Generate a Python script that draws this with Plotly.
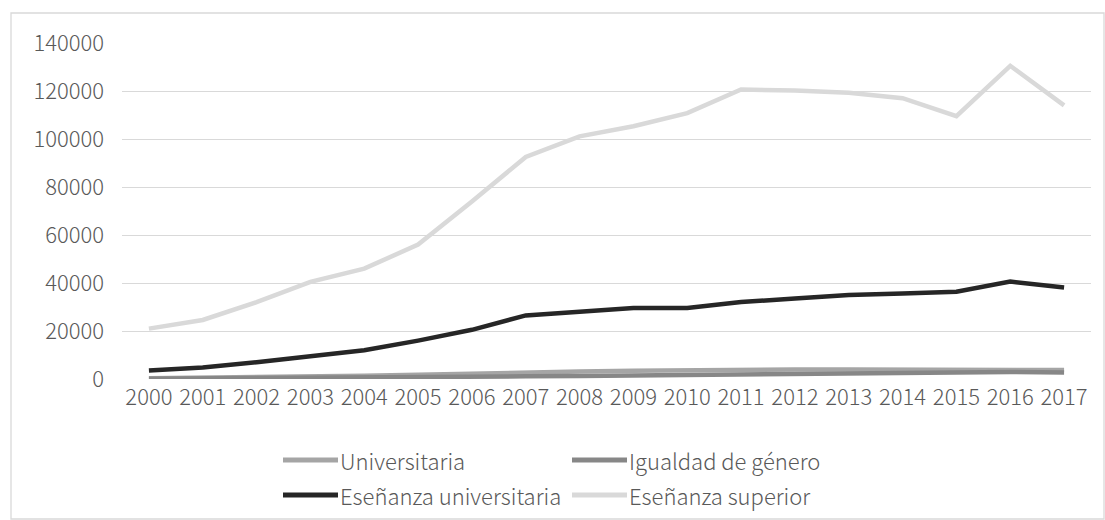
import plotly.graph_objects as go

years = [str(y) for y in range(2000, 2018)]

universitaria = [300, 500, 800, 1100, 1400, 1800, 2300, 2900, 3100, 3400,
                 3700, 3900, 4000, 4000, 3900, 3800, 4000, 3700]
igualdad_genero = [100, 200, 250, 300, 400, 600, 800, 1100, 1300, 1500,
                   1700, 2000, 2300, 2600, 2800, 2800, 2900, 2700]
ensenanza_universitaria = [3500, 4800, 7000, 9500, 12000, 16000, 20500, 26500, 28100, 29600,
                           29600, 32100, 33500, 35000, 35600, 36400, 40600, 38100]
ensenanza_superior = [21000, 24600, 32000, 40500, 46000, 56000, 74000, 92500, 101100, 105300,
                      110800, 120600, 120200, 119300, 117000, 109500, 130500, 114000]

series = [
    ("Universitaria", universitaria, "#a5a5a5"),
    ("Igualdad de género", igualdad_genero, "#878787"),
    ("Eseñanza universitaria", ensenanza_universitaria, "#262626"),
    ("Eseñanza superior", ensenanza_superior, "#d9d9d9"),
]

FONT = "Noto Sans CJK SC"
TEXT = "#595959"
FS = 22

fig = go.Figure()
for name, vals, color in series:
    fig.add_trace(go.Scatter(
        x=years, y=vals, name=name, mode="lines",
        line=dict(color=color, width=4.5),
        showlegend=False,
    ))

W, H = 1105, 520
L, R, T, B = 122, 14, 43, 141

fig.update_layout(
    width=W, height=H,
    margin=dict(l=L, r=R, t=T, b=B),
    paper_bgcolor="white", plot_bgcolor="white",
    font=dict(family=FONT, size=FS, color=TEXT, weight=300),
    xaxis=dict(type="category", range=[-0.5, len(years) - 0.5],
               showgrid=False, zeroline=False, showline=False,
               ticks="", tickfont=dict(size=FS, color=TEXT, weight=300),
               ticklabelstandoff=3),
    yaxis=dict(range=[0, 140000], dtick=20000, showgrid=True, gridcolor="#d9d9d9",
               gridwidth=1.3, zeroline=False, showline=False, ticks="",
               tickfont=dict(size=FS, color=TEXT, weight=300), ticklabelstandoff=17,
               tickformat="d"),
)

# chart frame
fig.add_shape(type="rect", xref="paper", yref="paper",
              x0=(11 - L) / (W - L - R), x1=(1104 - L) / (W - L - R),
              y0=(H - B - 519) / (H - T - B), y1=(H - B - 13) / (H - T - B),
              line=dict(color="#d9d9d9", width=1.3), layer="below")

# legend drawn in paper pixels
def px_x(px):
    return (px - L) / (W - L - R)

def px_y(py):
    return (H - B - py) / (H - T - B)

legend_pos = [(283, 460), (572, 460), (283, 495), (572, 495)]
for (name, _, color), (lx, ly) in zip(series, legend_pos):
    fig.add_shape(type="line", xref="paper", yref="paper",
                  x0=px_x(lx), x1=px_x(lx + 55), y0=px_y(ly), y1=px_y(ly),
                  line=dict(color=color, width=5))
    fig.add_annotation(xref="paper", yref="paper", x=px_x(lx + 55), y=px_y(ly),
                       text=name, showarrow=False, xanchor="left", yanchor="middle",
                       font=dict(family=FONT, size=FS, color=TEXT, weight=300))

fig.write_html("out.html")
